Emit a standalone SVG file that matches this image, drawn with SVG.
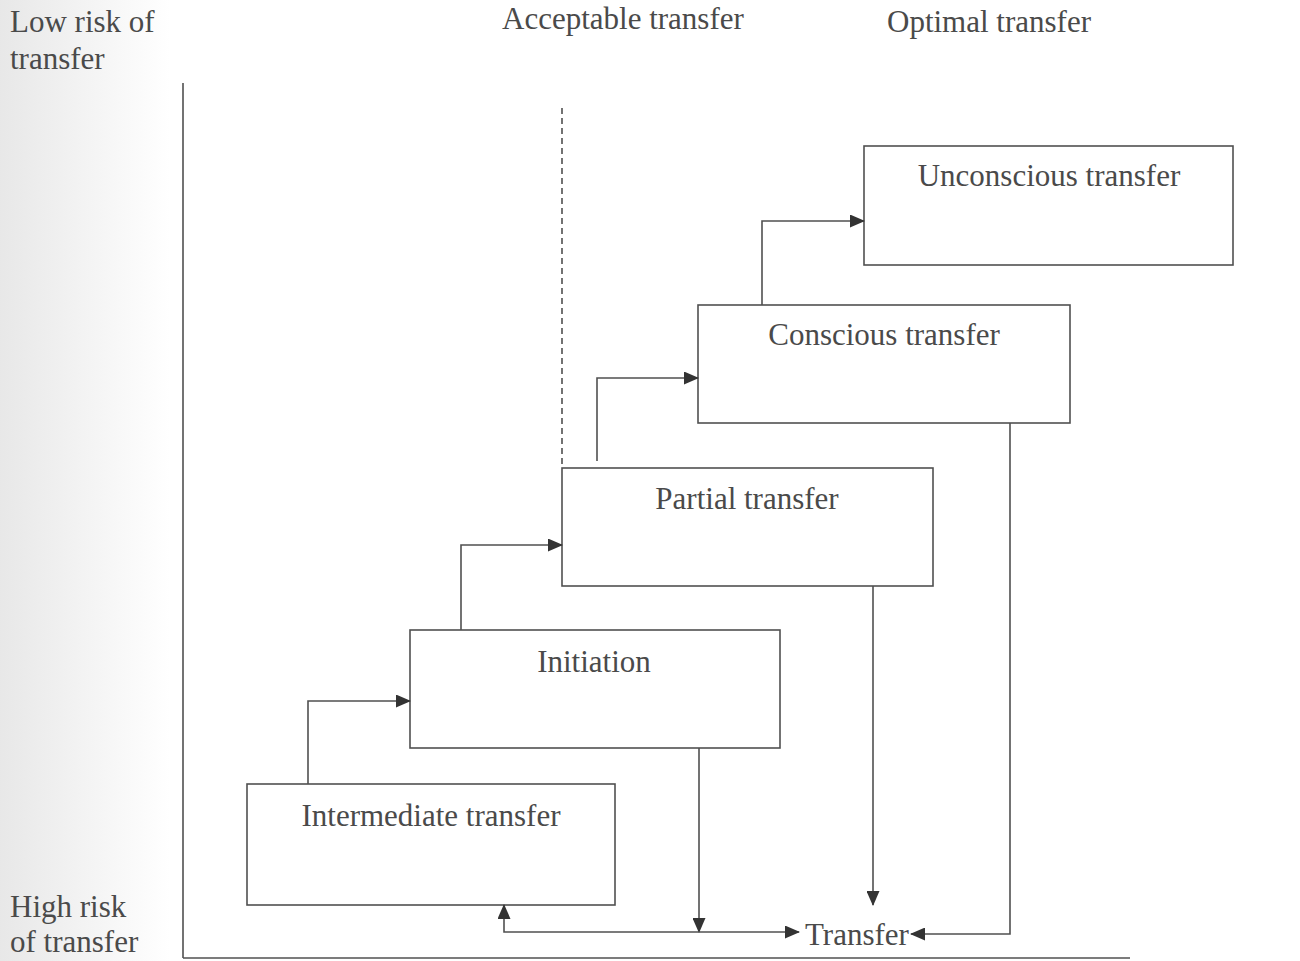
<svg xmlns="http://www.w3.org/2000/svg" width="1300" height="961" viewBox="0 0 1300 961">
<style>
  text { font-family: "Liberation Serif", "Times New Roman", serif; font-size: 31px; fill: #4a4a4a; }
  .box { fill: none; stroke: #505050; stroke-width: 1.6; }
  .line { fill: none; stroke: #505050; stroke-width: 1.6; }
  .arrow { fill: none; stroke: #505050; stroke-width: 1.6; marker-end: url(#ah); }
  .mid { text-anchor: middle; }
</style>
<defs>
  <marker id="ah" markerUnits="userSpaceOnUse" markerWidth="15" markerHeight="13" refX="14" refY="6.5" orient="auto">
    <path d="M0,0 L15,6.5 L0,13 Z" fill="#333"/>
  </marker>
  <linearGradient id="shade" x1="0" y1="0" x2="1" y2="0">
    <stop offset="0" stop-color="#d8d8d8"/>
    <stop offset="1" stop-color="#ffffff"/>
  </linearGradient>
</defs>
<rect x="0" y="0" width="1300" height="961" fill="#ffffff"/>
<rect x="0" y="0" width="170" height="961" fill="url(#shade)" opacity="0.6"/>

<g id="labels">
  <text x="10" y="32">Low risk of</text>
  <text x="10" y="69">transfer</text>
  <text x="10" y="917">High risk</text>
  <text x="10" y="952">of transfer</text>
  <text x="502" y="29">Acceptable transfer</text>
  <text x="887" y="32">Optimal transfer</text>
</g>

<g id="axes">
  <line class="line" x1="183" y1="83" x2="183" y2="958"/>
  <line class="line" x1="183" y1="958" x2="1130" y2="958"/>
  <line class="line" x1="562" y1="108" x2="562" y2="468" stroke-dasharray="6,4"/>
</g>

<g id="node-intermediate">
  <rect class="box" x="247" y="784" width="368" height="121"/>
  <text class="mid" x="431" y="826">Intermediate transfer</text>
</g>
<g id="node-initiation">
  <rect class="box" x="410" y="630" width="370" height="118"/>
  <text class="mid" x="594" y="672">Initiation</text>
</g>
<g id="node-partial">
  <rect class="box" x="562" y="468" width="371" height="118"/>
  <text class="mid" x="747" y="509">Partial transfer</text>
</g>
<g id="node-conscious">
  <rect class="box" x="698" y="305" width="372" height="118"/>
  <text class="mid" x="884" y="345">Conscious transfer</text>
</g>
<g id="node-unconscious">
  <rect class="box" x="864" y="146" width="369" height="119"/>
  <text class="mid" x="1049" y="186">Unconscious transfer</text>
</g>
<g id="node-transfer">
  <text x="805" y="945">Transfer</text>
</g>

<g id="connectors">
  <path class="arrow" d="M308,784 V701 H410"/>
  <path class="arrow" d="M461,630 V545 H562"/>
  <path class="arrow" d="M597,461 V378 H698"/>
  <path class="arrow" d="M762,305 V221 H864"/>
  <path class="arrow" d="M699,748 V932"/>
  <path class="arrow" d="M873,586 V905"/>
  <path class="arrow" d="M699,932 H799"/>
  <path class="arrow" d="M699,932 H504 V905"/>
  <path class="arrow" d="M1010,423 V934 H911"/>
</g>
</svg>
